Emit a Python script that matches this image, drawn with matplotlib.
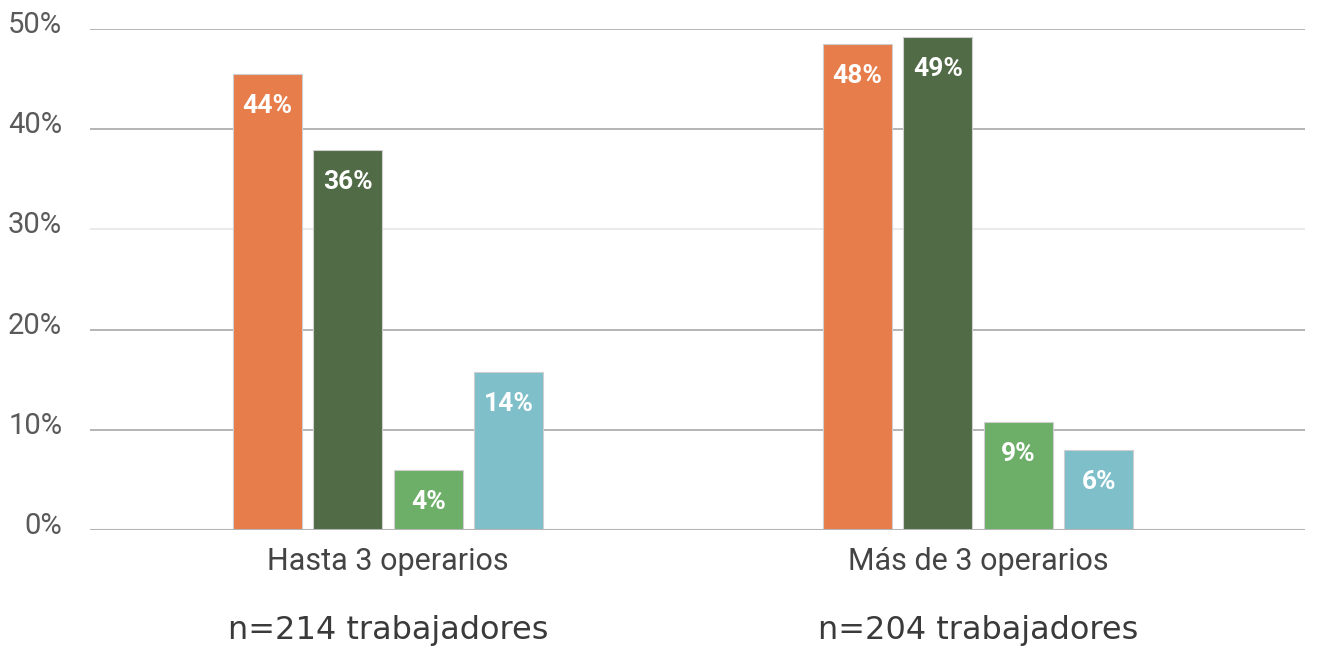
import numpy as np
import matplotlib
matplotlib.use('Agg')
import matplotlib.pyplot as plt
import matplotlib.transforms as mtrans

# ============ DATOS ============
categorias = ['Hasta 3 operarios', 'Más de 3 operarios']
muestras = ['n=214 trabajadores', 'n=204 trabajadores']

# altura de las barras tal como se ve en el grafico (%)
serie1 = [45.5, 48.5]   # naranja
serie2 = [37.9, 49.2]   # verde oscuro
serie3 = [6.0, 10.8]    # verde claro
serie4 = [15.8, 8.0]    # celeste

etiq1 = ['44%', '48%']
etiq2 = ['36%', '49%']
etiq3 = ['4%', '9%']
etiq4 = ['14%', '6%']

yticks = [0, 10, 20, 30, 40, 50]

colores = ['#E77D4A', '#506B46', '#6DAF69', '#7FBFCA']

# ============ PLOTEAR ============
fig = plt.figure(figsize=(13.4, 6.48), dpi=100)
ax = fig.add_axes([90/1340, 1 - 530/648, (1305-90)/1340, (530-29)/648])

x = np.arange(len(categorias))
ancho = 0.117
paso = 0.1364
series = [serie1, serie2, serie3, serie4]
etiquetas = [etiq1, etiq2, etiq3, etiq4]

for i, (s, et) in enumerate(zip(series, etiquetas)):
    pos = x + (i - 1.5) * paso
    barras = ax.bar(pos, s, ancho, color=colores[i], edgecolor='#cfcfcf',
                    linewidth=0.8, zorder=3)
    for b, t in zip(barras, et):
        ax.annotate(t, (b.get_x() + b.get_width()/2, b.get_height()),
                    xytext=(0, -23), textcoords='offset points',
                    ha='center', va='center', color='white',
                    fontsize=19, fontweight='bold', family='Roboto', zorder=4)

ax.set_xlim(-0.505, 1.554)
ax.set_ylim(0, 50)

for v in yticks[1:]:
    c = '#e6e6e6' if v == 30 else '#a8a8a8'
    ax.axhline(v, color=c, linewidth=1.2, zorder=1)
ax.axhline(0, color='#b4b4b4', linewidth=2.2, zorder=4)

for s in ax.spines.values():
    s.set_visible(False)

ax.set_yticks(yticks)
ax.set_yticklabels(['%d%%' % v for v in yticks], fontsize=21,
                   family='Roboto', fontweight='normal', color='#5a5a5a')
ax.tick_params(axis='y', length=0, pad=20)
ax.tick_params(axis='x', length=0, pad=12)
subir = mtrans.ScaledTranslation(0, 5/72, fig.dpi_scale_trans)
for lab in ax.get_yticklabels():
    lab.set_transform(lab.get_transform() + subir)
ax.set_xticks(x)
ax.set_xticklabels(categorias, fontsize=22, family='Roboto', color='#444444')

for xi, m in zip(x, muestras):
    ax.annotate(m, (xi, 0), xycoords=('data', 'axes fraction'),
                xytext=(0, -72), textcoords='offset points',
                ha='center', va='center', fontsize=23, family='DejaVu Sans',
                color='#3a3a3a')

fig.savefig('out.png', dpi=100)
